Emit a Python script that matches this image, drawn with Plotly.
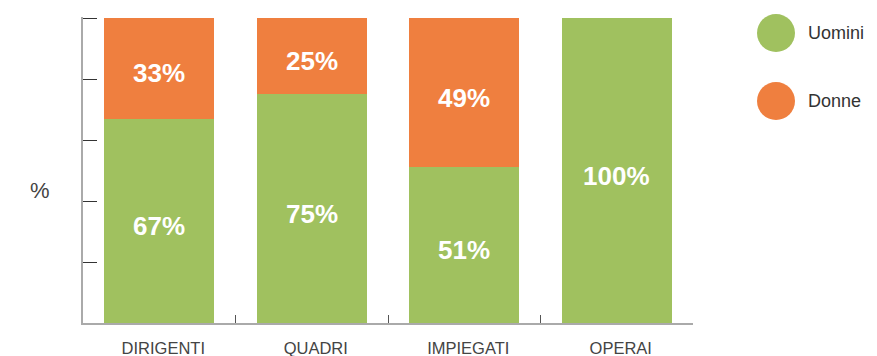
import plotly.graph_objects as go

categories = ["DIRIGENTI", "QUADRI", "IMPIEGATI", "OPERAI"]
uomini = [67, 75, 51, 100]
donne = [33, 25, 49, 0]
series_names = ["Uomini", "Donne"]
series_colors = ["#A0C15F", "#EF7F3F"]

W, H = 877, 356
L, R, T, B = 83, 184, 17, 33
pw, ph = W - L - R, H - T - B
FONT = "Liberation Sans, Arial, Helvetica"

fig = go.Figure()
for name, vals, col in zip(series_names, [uomini, donne], series_colors):
    fig.add_trace(go.Bar(
        x=categories, y=vals, name=name,
        marker=dict(color=col, line=dict(width=0)),
        showlegend=False, width=0.72, hoverinfo="x+y+name",
    ))

# value labels centred in each stacked segment
for cat, u, d in zip(categories, uomini, donne):
    base = 0
    for v in (u, d):
        if v > 0:
            fig.add_annotation(x=cat, y=base + v / 2, text=f"{v}%", showarrow=False,
                               xanchor="center", yanchor="middle", yshift=-5,
                               font=dict(family=FONT, size=26, color="white", weight="bold"))
        base += v

# legend drawn as circles with labels
for i, (name, col) in enumerate(zip(series_names, series_colors)):
    cy = 33 + i * 68
    cx = 776
    r = 19
    fig.add_shape(type="circle", xref="paper", yref="paper",
                  x0=(cx - r - L) / pw, x1=(cx + r - L) / pw,
                  y0=(H - B - (cy + r)) / ph, y1=(H - B - (cy - r)) / ph,
                  fillcolor=col, line=dict(width=0))
    fig.add_annotation(text=name, xref="paper", yref="paper",
                       x=(806 - L) / pw, y=(H - B - cy) / ph,
                       xanchor="left", yanchor="middle", showarrow=False,
                       font=dict(family=FONT, size=18, color="#333"))

# y-axis unit label
fig.add_annotation(text="%", xref="paper", yref="paper",
                   x=(40 - L) / pw, y=(H - B - 190) / ph,
                   xanchor="center", yanchor="middle", showarrow=False,
                   font=dict(family=FONT, size=22, color="#444"))

fig.update_layout(
    barmode="stack", width=W, height=H,
    margin=dict(l=L, r=R, t=T, b=B, pad=0),
    paper_bgcolor="white", plot_bgcolor="white",
    xaxis=dict(type="category", tickson="boundaries", ticks="inside", ticklen=8,
               tickcolor="#555", tickwidth=1, showline=True, linecolor="#aaa", linewidth=2,
               showgrid=False, automargin=False, ticklabelstandoff=9, ticklabelshift=4,
               tickfont=dict(family=FONT, size=16.5, color="#444"),
               range=[-0.5, 3.5]),
    yaxis=dict(range=[0, 100.33], tickvals=[0, 20, 40, 60, 80, 100], ticks="inside", ticklen=14,
               tickcolor="#333", tickwidth=1, showticklabels=False, showline=True,
               linecolor="#aaa", linewidth=2, showgrid=False, zeroline=False, automargin=False),
)

fig.write_html("out.html")
